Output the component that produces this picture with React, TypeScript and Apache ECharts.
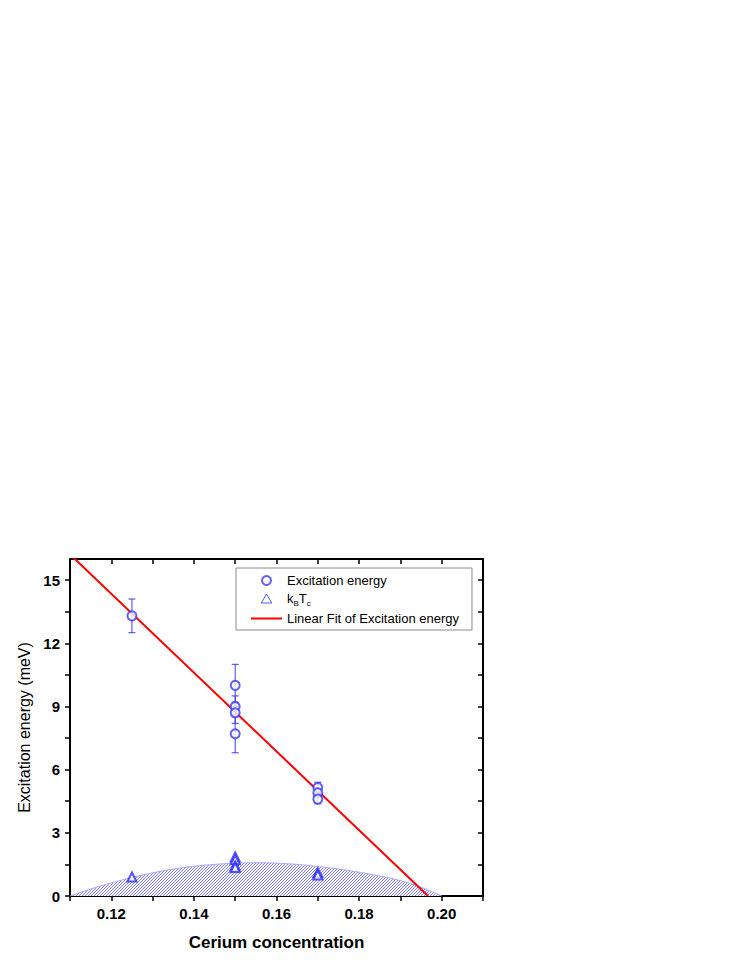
import React, { useEffect, useRef } from 'react';
import * as echarts from 'echarts';

// Axis ticks and labels
const xTickValues = [0.11, 0.12, 0.13, 0.14, 0.15, 0.16, 0.17, 0.18, 0.19, 0.2, 0.21];
const xLabelValues = [0.12, 0.14, 0.16, 0.18, 0.2];
const yTickValues = [0, 1.5, 3, 4.5, 6, 7.5, 9, 10.5, 12, 13.5, 15];
const yLabelValues = [0, 3, 6, 9, 12, 15];

// Excitation energy (circles) with error bars
const excX = [0.125, 0.15, 0.15, 0.15, 0.15, 0.17, 0.17, 0.17];
const excY = [13.3, 10.0, 9.0, 8.7, 7.7, 5.15, 4.9, 4.6];
const excErr = [0.8, 1.0, 0.5, 0.5, 0.9, 0.25, 0.2, 0.22];

// kB Tc (triangles)
const kX = [0.125, 0.15, 0.15, 0.15, 0.15, 0.17, 0.17];
const kY = [0.9, 1.85, 1.72, 1.42, 1.35, 1.1, 1.0];

// Linear fit of excitation energy
const fitX = [0.11, 0.1967];
const fitY = [16.22, 0];

// Hatched dome (superconducting region)
const domeX = [0.11, 0.115, 0.12, 0.125, 0.13, 0.135, 0.14, 0.145, 0.15, 0.155, 0.16, 0.165, 0.17, 0.175, 0.18, 0.185, 0.19, 0.195, 0.2];
const domeY = [0, 0.33, 0.62, 0.88, 1.1, 1.28, 1.41, 1.5, 1.56, 1.58, 1.56, 1.5, 1.4, 1.28, 1.13, 0.95, 0.73, 0.42, 0];

const FONT = '"Liberation Sans", Arial, sans-serif';
const TRI_ICON = 'path://M5,0L10,8.66L0,8.66Z';

function makeHatch(): HTMLCanvasElement {
  const c = document.createElement('canvas');
  c.width = 3;
  c.height = 3;
  const ctx = c.getContext('2d')!;
  const img = ctx.createImageData(3, 3);
  for (let y = 0; y < 3; y++) {
    for (let x = 0; x < 3; x++) {
      const i = (y * 3 + x) * 4;
      const on = (x + y) % 3 === 2;
      img.data[i] = on ? 125 : 250;
      img.data[i + 1] = on ? 125 : 250;
      img.data[i + 2] = 255;
      img.data[i + 3] = 255;
    }
  }
  ctx.putImageData(img, 0, 0);
  return c;
}

export default function App() {
  const ref = useRef<HTMLDivElement>(null);
  useEffect(() => {
    if (!ref.current) return;
    const chart = echarts.init(ref.current, undefined, { renderer: 'svg' });
    const hatch = makeHatch();
    const axisLine = { show: true, onZero: false, lineStyle: { color: '#000', width: 2 } };
    const tickStyle = { color: '#000', width: 1.5 };
    const option: any = {
      animation: false,
      backgroundColor: '#fff',
      grid: { left: 70, top: 559, width: 413, height: 337, containLabel: false },
      legend: {
        data: [
          { name: 'Excitation energy' },
          {
            name: 'kBTc',
            icon: TRI_ICON,
            itemStyle: { color: '#fff', borderColor: '#2a2aff', borderWidth: 1 },
          },
          { name: 'Linear Fit of Excitation energy', itemStyle: { opacity: 0 } },
        ],
        orient: 'vertical',
        left: 236,
        top: 568,
        borderColor: '#8c8c8c',
        borderWidth: 1,
        padding: [6, 13, 5, 14],
        itemGap: 5,
        itemWidth: 31,
        itemHeight: 9,
        symbolKeepAspect: true,
        textStyle: {
          fontSize: 13,
          color: '#000',
          fontFamily: FONT,
          rich: {
            n: { fontSize: 13, fontFamily: FONT, color: '#000' },
            s: { fontSize: 8, fontFamily: FONT, color: '#000', padding: [9, 0, 0, 0] },
          },
        },
        formatter: (name: string) => (name === 'kBTc' ? '{n|k}{s|B}{n|T}{s|c}' : name),
      },
      xAxis: [
        {
          type: 'value',
          min: 0.11,
          max: 0.21,
          position: 'bottom',
          axisLine,
          splitLine: { show: false },
          axisTick: { show: true, customValues: xTickValues, length: 5, inside: false, lineStyle: tickStyle },
          axisLabel: {
            customValues: xLabelValues,
            formatter: (v: number) => v.toFixed(2),
            margin: 10,
            fontSize: 15,
            fontWeight: 'bold',
            color: '#000',
            fontFamily: FONT,
          },
          name: 'Cerium concentration',
          nameLocation: 'middle',
          nameGap: 38,
          nameTextStyle: { fontSize: 17, fontWeight: 'bold', color: '#000', fontFamily: FONT },
        },
        {
          type: 'value',
          min: 0.11,
          max: 0.21,
          position: 'top',
          axisLine,
          splitLine: { show: false },
          axisTick: { show: true, customValues: xTickValues, length: 5, inside: true, lineStyle: tickStyle },
          axisLabel: { show: false },
        },
      ],
      yAxis: [
        {
          type: 'value',
          min: 0,
          max: 16,
          position: 'left',
          axisLine,
          splitLine: { show: false },
          axisTick: { show: true, customValues: yTickValues, length: 5, inside: false, lineStyle: tickStyle },
          axisLabel: {
            customValues: yLabelValues,
            formatter: (v: number) => String(v),
            margin: 10,
            fontSize: 15,
            fontWeight: 'bold',
            color: '#000',
            fontFamily: FONT,
          },
          name: 'Excitation energy (meV)',
          nameLocation: 'middle',
          nameGap: 37,
          nameTextStyle: { fontSize: 16, color: '#000', fontFamily: FONT },
        },
        {
          type: 'value',
          min: 0,
          max: 16,
          position: 'right',
          axisLine,
          splitLine: { show: false },
          axisTick: { show: true, customValues: yTickValues, length: 5, inside: true, lineStyle: tickStyle },
          axisLabel: { show: false },
        },
      ],
      series: [
        {
          name: 'dome',
          type: 'line',
          data: domeX.map((x, i) => [x, domeY[i]]),
          smooth: 0.3,
          symbol: 'none',
          lineStyle: { color: '#a4a8ff', width: 1 },
          areaStyle: {
            color: { image: hatch, repeat: 'repeat', imageWidth: 3, imageHeight: 3 },
            opacity: 1,
          },
          z: 1,
          silent: true,
        },
        {
          name: 'Linear Fit of Excitation energy',
          type: 'line',
          data: fitX.map((x, i) => [x, fitY[i]]),
          symbol: 'none',
          lineStyle: { color: '#ff0000', width: 2 },
          itemStyle: { color: '#ff0000' },
          clip: true,
          z: 3,
        },
        {
          name: 'errbars',
          type: 'custom',
          data: excX.map((x, i) => [x, excY[i], excErr[i]]),
          encode: { x: 0, y: 1 },
          z: 4,
          renderItem: (params: any, api: any) => {
            const x = api.value(0);
            const y = api.value(1);
            const e = api.value(2);
            const top = api.coord([x, y + e]);
            const bot = api.coord([x, y - e]);
            const hw = 3.5;
            const style = { stroke: '#3a3aff', lineWidth: 1 };
            return {
              type: 'group',
              children: [
                { type: 'line', shape: { x1: top[0], y1: top[1], x2: bot[0], y2: bot[1] }, style },
                { type: 'line', shape: { x1: top[0] - hw, y1: top[1], x2: top[0] + hw, y2: top[1] }, style },
                { type: 'line', shape: { x1: bot[0] - hw, y1: bot[1], x2: bot[0] + hw, y2: bot[1] }, style },
              ],
            };
          },
        },
        {
          name: 'Excitation energy',
          type: 'scatter',
          data: excX.map((x, i) => [x, excY[i]]),
          symbol: 'emptyCircle',
          symbolSize: 9,
          itemStyle: { color: '#3a3aff', borderWidth: 1 },
          z: 5,
        },
        {
          name: 'kBTc',
          type: 'scatter',
          data: kX.map((x, i) => [x, kY[i]]),
          symbol: 'emptyTriangle',
          symbolSize: 9,
          itemStyle: { color: '#2a2aff', borderWidth: 1 },
          z: 5,
        },
      ],
    };
    chart.setOption(option);
    return () => chart.dispose();
  }, []);
  return (
    <div
      ref={ref}
      style={{ position: 'absolute', left: 0, top: 0, width: 747, height: 967, background: '#fff' }}
    />
  );
}
